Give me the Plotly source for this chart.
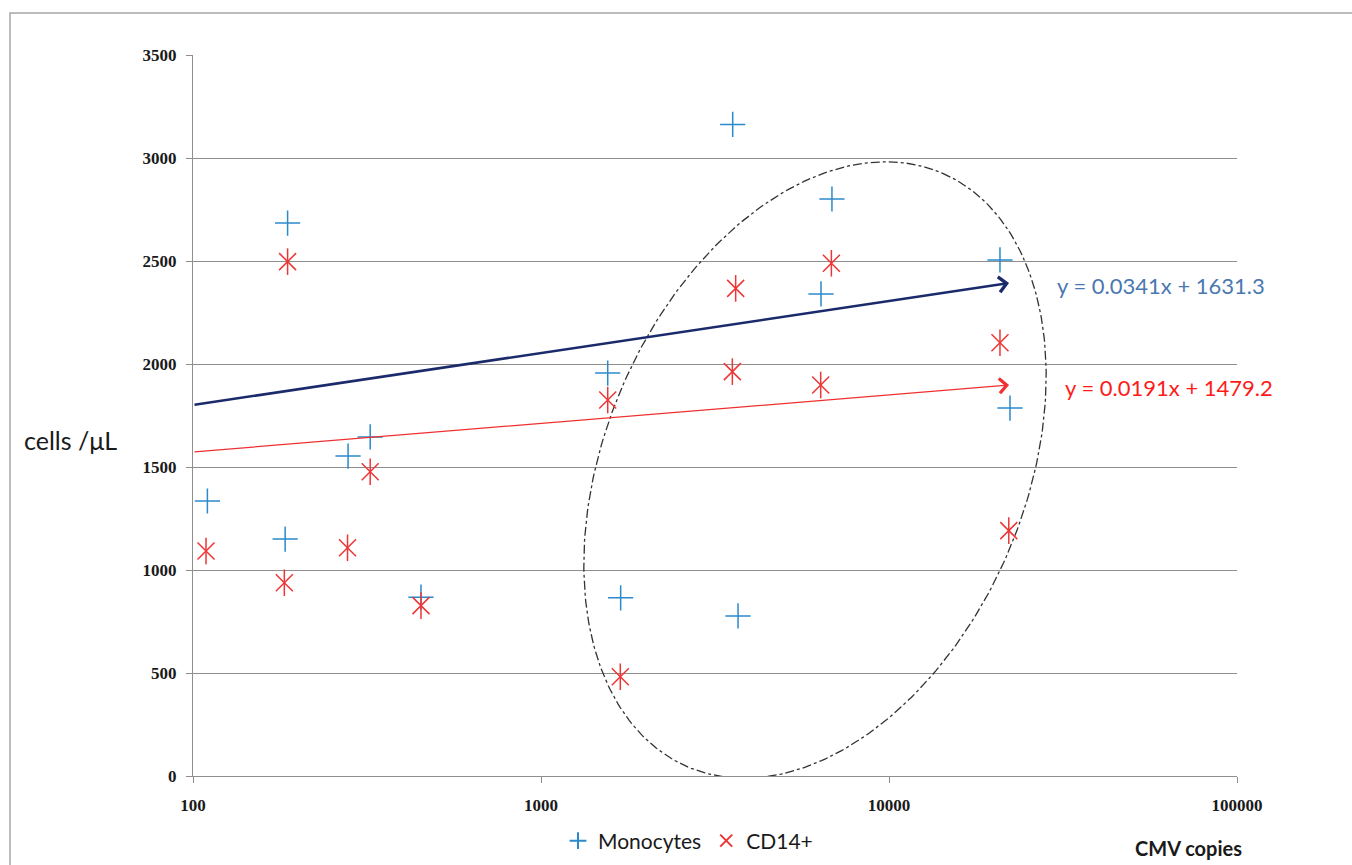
import numpy as np
import plotly.graph_objects as go

# ---------------- data ----------------
mono_x = [110, 187, 184, 279, 323, 452, 1555, 1694, 3555, 3683, 6856, 6377, 20840, 22270]
mono_y = [1335, 2684, 1150, 1553, 1646, 868, 1956, 865, 3163, 777, 2801, 2340, 2505, 1786]

cd14_x = [109, 187, 183, 278, 323, 452, 1555, 1690, 3626, 3547, 6364, 6830, 20840, 22090]
cd14_y = [1092, 2497, 938, 1108, 1477, 827, 1825, 482, 2367, 1963, 1898, 2489, 2103, 1191]

# trend arrows (start x, end x, start y, end y)
mono_trend_x = [100, 22130]
mono_trend_y = [1801, 2393]
cd14_trend_x = [100, 22130]
cd14_trend_y = [1573, 1898]
mono_eq = "y = 0.0341x + 1631.3"
cd14_eq = "y = 0.0191x + 1479.2"

x_tickvals = [100, 1000, 10000, 100000]
x_ticktext = ["100", "1000", "10000", "100000"]
y_tickvals = [0, 500, 1000, 1500, 2000, 2500, 3000, 3500]
y_ticktext = ["0", "500", "1000", "1500", "2000", "2500", "3000", "3500"]

# ---------------- layout constants ----------------
W, H = 1352, 865
ML, MR, MT, MB = 193, 115, 55, 89
PW, PH = W - ML - MR, H - MT - MB

BLUE = "#2a8acb"
RED = "#ee3535"
GRID = "#8e8e8e"
TICKFONT = dict(family="Liberation Serif", size=17, color="#1a1a1a", weight="bold")

fig = go.Figure()

# dash-dot ellipse (decoration), defined in pixel space of the plot area
ell_cx, ell_cy = 815 - ML, 470 - MT   # px from plot's top-left
ell_a, ell_b, ell_th = 323, 210, np.deg2rad(66.8)
t = np.linspace(0, 2 * np.pi, 361)
ex = ell_cx + ell_a * np.cos(t) * np.cos(ell_th) + ell_b * np.sin(t) * np.sin(ell_th)
ey = ell_cy - ell_a * np.cos(t) * np.sin(ell_th) + ell_b * np.sin(t) * np.cos(ell_th)
ell_xdata = 10 ** (2 + 3 * ex / PW)
ell_ydata = 3500 * (1 - ey / PH)
fig.add_trace(go.Scatter(x=ell_xdata, y=ell_ydata, mode="lines",
                         line=dict(color="#333333", width=1.3, dash="dashdot"),
                         showlegend=False, hoverinfo="skip"))

fig.add_trace(go.Scatter(x=mono_x, y=mono_y, mode="markers", name="Monocytes",
                         marker=dict(symbol="cross-thin-open", size=18, color=BLUE,
                                     line=dict(color=BLUE, width=1.5))))
fig.add_trace(go.Scatter(x=cd14_x, y=cd14_y, mode="markers", name="CD14+",
                         legendgroup="cd14",
                         marker=dict(symbol="x-thin-open", size=17, color=RED,
                                     line=dict(color=RED, width=1.5))))
fig.add_trace(go.Scatter(x=cd14_x, y=cd14_y, mode="markers", name="CD14+",
                         legendgroup="cd14", showlegend=False,
                         marker=dict(symbol="line-ns-open", size=19, color=RED,
                                     line=dict(color=RED, width=1.5))))

# trend arrows
fig.add_annotation(x=np.log10(mono_trend_x[1]), y=mono_trend_y[1],
                   ax=np.log10(mono_trend_x[0]), ay=mono_trend_y[0],
                   xref="x", yref="y", axref="x", ayref="y", text="",
                   showarrow=True, arrowhead=4, arrowsize=1.2, arrowwidth=2.5,
                   arrowcolor="#1b2a6b")
fig.add_annotation(x=np.log10(cd14_trend_x[1]), y=cd14_trend_y[1],
                   ax=np.log10(cd14_trend_x[0]), ay=cd14_trend_y[0],
                   xref="x", yref="y", axref="x", ayref="y", text="",
                   showarrow=True, arrowhead=4, arrowsize=2.2, arrowwidth=1.3,
                   arrowcolor="#f03030")

fig.add_annotation(x=(1055 - ML) / PW, y=(MT + PH - 285) / PH, xref="paper", yref="paper",
                   text=mono_eq, showarrow=False, xanchor="left", yanchor="middle",
                   font=dict(family="Lato", size=22, color="#4a78b0"))
fig.add_annotation(x=(1063 - ML) / PW, y=(MT + PH - 387) / PH, xref="paper", yref="paper",
                   text=cd14_eq, showarrow=False, xanchor="left", yanchor="middle",
                   font=dict(family="Lato", size=22, color="#ff1a1a"))

# axis titles
fig.add_annotation(x=(22 - ML) / PW, y=(MT + PH - 440) / PH, xref="paper", yref="paper",
                   text="cells /μL", showarrow=False, xanchor="left", yanchor="middle",
                   font=dict(family="Lato", size=25, color="#1a1a1a"))
fig.add_annotation(x=(1188 - ML) / PW, y=(MT + PH - 848) / PH, xref="paper", yref="paper",
                   text="CMV copies", showarrow=False, xanchor="center", yanchor="middle",
                   font=dict(family="Lato", size=20, color="#1a1a1a", weight="bold"))

# outer frame
fig.add_shape(type="rect", xref="paper", yref="paper",
              x0=(10 - ML) / PW, x1=(1400 - ML) / PW,
              y0=(MT + PH - 900) / PH, y1=(MT + PH - 13) / PH,
              line=dict(color="#a6a6a6", width=1.5), fillcolor="rgba(0,0,0,0)", layer="below")

fig.update_xaxes(type="log", range=[2, 5], tickvals=x_tickvals, ticktext=x_ticktext,
                 showgrid=False, zeroline=False, showline=True, linecolor=GRID, linewidth=1,
                 ticks="outside", ticklen=6, tickcolor=GRID, tickfont=TICKFONT,
                 ticklabelstandoff=8)
fig.update_yaxes(range=[0, 3500], tickvals=y_tickvals, ticktext=y_ticktext,
                 showgrid=True, gridcolor=GRID, gridwidth=1, zeroline=False,
                 showline=True, linecolor=GRID, linewidth=1,
                 ticks="outside", ticklen=6, tickcolor=GRID, tickfont=TICKFONT,
                 ticklabelstandoff=6)

fig.update_layout(width=W, height=H,
                  margin=dict(l=ML, r=MR, t=MT, b=MB, autoexpand=False),
                  plot_bgcolor="white", paper_bgcolor="white",
                  showlegend=True,
                  legend=dict(orientation="h", x=(688 - ML) / PW, y=(MT + PH - 841) / PH,
                              xanchor="center", yanchor="middle",
                              font=dict(family="Lato", size=21, color="#1a1a1a"),
                              itemsizing="constant", bgcolor="rgba(0,0,0,0)"))

fig.write_html("out.html")
